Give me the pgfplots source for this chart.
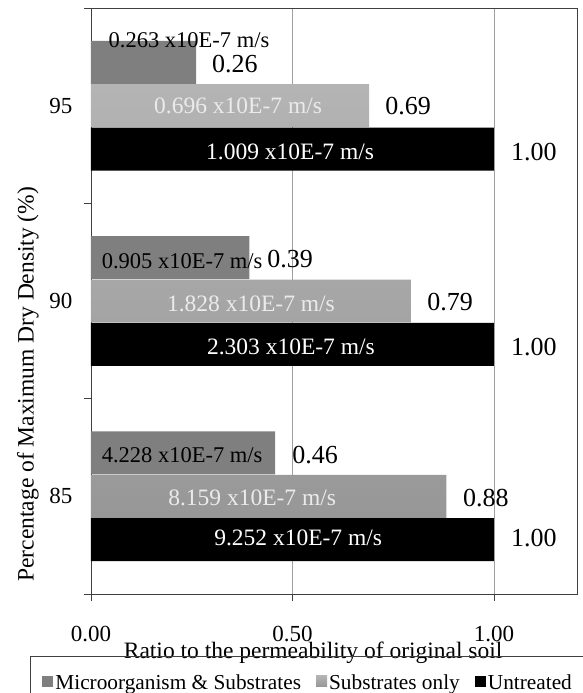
\documentclass[border=0pt]{standalone}
\usepackage{fontspec}
\setmainfont{Liberation Serif}
\usepackage{pgfplots}
\pgfplotsset{compat=1.18}

\definecolor{microgray}{HTML}{7F7F7F}
\definecolor{subtop}{HTML}{B4B4B4}
\definecolor{subbot}{HTML}{979797}
\definecolor{framegray}{HTML}{404040}

\begin{document}
\begin{tikzpicture}
	\def\microfont{\fontsize{22.5}{24}\selectfont}
	\def\barfont{\fontsize{23.5}{25}\selectfont}
	\def\ratiofont{\fontsize{26}{28}\selectfont}
	\begin{axis}[
			name=ax,
			scale only axis,
			width=486pt,
			height=586pt,
			xmin=0, xmax=1.206,
			ymin=0.5, ymax=3.5,
			xbar,
			bar width=0.22,
			clip=false,
			xtick={0,0.5,1},
			xticklabels={0.00,0.50,1.00},
			ytick={0.5,1.5,2.5,3.5},
			yticklabels={},
			extra y ticks={1,2,3},
			extra y tick labels={85,90,95},
			extra y tick style={major tick length=0pt},
			major tick length=7pt,
			tick pos=left,
			tick align=outside,
			tick style={framegray, line width=0.8pt},
			xmajorgrids,
			grid style={gray!75, line width=0.8pt},
			axis line style={framegray, line width=0.8pt},
			ticklabel style={font=\fontsize{23}{25}\selectfont},
			xticklabel style={yshift=-22pt},
			yticklabel style={xshift=-15pt},
			xlabel={Ratio to the permeability of original soil},
			xlabel style={at={(axis description cs:0.457,-0.101)}, anchor=center, font=\fontsize{23.5}{25}\selectfont},
			ylabel={Percentage of Maximum Dry Density (\%)},
			ylabel style={at={(axis description cs:-0.13,0.358)}, anchor=center, font=\fontsize{23.5}{25}\selectfont},
			legend columns=3,
			legend style={
					at={(axis description cs:-0.1255,-0.1058)},
					anchor=north west,
					draw=framegray,
					fill=none,
					line width=0.8pt,
					font=\fontsize{21.3}{23}\selectfont,
					inner xsep=12pt,
					inner ysep=16pt,
					/tikz/every even column/.append style={column sep=13pt},
				},
			legend image code/.code={\fill[#1] (0pt,-4pt) rectangle (11pt,7pt);},
		]
		\addplot[bar shift=0.222, fill=microgray, draw=none] coordinates {
				(0.261,3) (0.393,2) (0.457,1)
			};
		\addlegendentry{Microorganism \& Substrates}
		\addplot[bar shift=0, top color=subtop, bottom color=subbot, draw=none] coordinates {
				(0.690,3) (0.794,2) (0.882,1)
			};
		\addlegendentry{Substrates only}
		\addplot[bar shift=-0.222, fill=black, draw=none] coordinates {
				(1.000,3) (1.000,2) (1.000,1)
			};
		\addlegendentry{Untreated}

		% labels, 95
		\node[font=\microfont, anchor=west] at (axis cs:0.035,3.336) {0.263 x10E-7 m/s};
		\node[font=\ratiofont] at (axis cs:0.357,3.213) {0.26};
		\node[font=\barfont, text=white!92!black] at (axis cs:0.365,3.0) {0.696 x10E-7 m/s};
		\node[font=\ratiofont] at (axis cs:0.787,3.0) {0.69};
		\node[font=\barfont, text=white] at (axis cs:0.494,2.765) {1.009 x10E-7 m/s};
		\node[font=\ratiofont] at (axis cs:1.099,2.765) {1.00};
		% labels, 90
		\node[font=\microfont, anchor=west] at (axis cs:0.018,2.205) {0.905 x10E-7 m/s};
		\node[font=\ratiofont] at (axis cs:0.494,2.215) {0.39};
		\node[font=\barfont, text=white!92!black] at (axis cs:0.397,1.985) {1.828 x10E-7 m/s};
		\node[font=\ratiofont] at (axis cs:0.891,1.995) {0.79};
		\node[font=\barfont, text=white] at (axis cs:0.496,1.765) {2.303 x10E-7 m/s};
		\node[font=\ratiofont] at (axis cs:1.099,1.765) {1.00};
		% labels, 85
		\node[font=\microfont, anchor=west] at (axis cs:0.018,1.212) {4.228 x10E-7 m/s};
		\node[font=\ratiofont] at (axis cs:0.556,1.212) {0.46};
		\node[font=\barfont, text=white!92!black] at (axis cs:0.400,0.99) {8.159 x10E-7 m/s};
		\node[font=\ratiofont] at (axis cs:0.980,0.99) {0.88};
		\node[font=\barfont, text=white] at (axis cs:0.514,0.787) {9.252 x10E-7 m/s};
		\node[font=\ratiofont] at (axis cs:1.099,0.787) {1.00};
	\end{axis}
	\pgfresetboundingbox
	\path[use as bounding box] ([xshift=-91pt,yshift=-99pt]ax.south west) rectangle ++(583pt,693pt);
\end{tikzpicture}
\end{document}
